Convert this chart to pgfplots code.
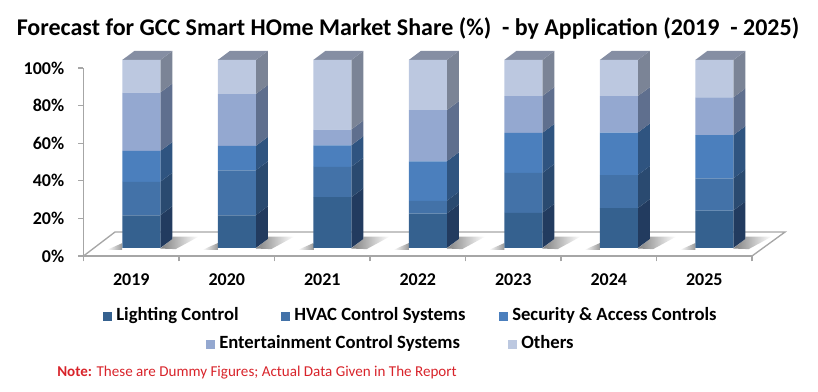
\documentclass[border=0pt]{standalone}
\usepackage{pgfplots}
\usepackage{pgfplotstable}
\usepackage{fontspec}
\setmainfont{Carlito}
\pgfplotsset{compat=1.18}
\definecolor{cA}{HTML}{35618F}\definecolor{cB}{HTML}{4372A8}\definecolor{cC}{HTML}{4B7FBD}\definecolor{cD}{HTML}{94A8D0}\definecolor{cE}{HTML}{BCC8E0}
\definecolor{sA}{HTML}{223B5F}\definecolor{sB}{HTML}{2A4A70}\definecolor{sC}{HTML}{2F5480}\definecolor{sD}{HTML}{5F6F8E}\definecolor{sE}{HTML}{7B8496}
\definecolor{topc}{HTML}{858EA3}\definecolor{axc}{HTML}{A6A6A6}\definecolor{notec}{HTML}{D8232A}
\pgfplotstableread{
x a b c d e
0 17.4 17.8 16.4 31.1 17.3
1 17.4 23.9 13.0 27.6 18.1
2 27.0 16.2 11.4 8.4 37.0
3 18.3 6.8 21.0 27.2 26.7
4 18.7 21.2 21.3 19.6 19.2
5 21.2 17.6 22.6 19.4 19.2
6 19.9 17.1 23.0 20.1 19.9
}\datatable
\newcommand\seg[4]{%
 \pgfmathsetmacro\xa{#1+0.199}\pgfmathsetmacro\xb{#1+0.325}%
 \pgfmathsetmacro\yc{#2+4.79}\pgfmathsetmacro\yd{#3+4.79}%
 \edef\tmp{\noexpand\addplot[draw=none,fill=#4,forget plot] coordinates {(\xa,#2)(\xb,\yc)(\xb,\yd)(\xa,#3)} -- cycle;}\tmp}
\newcommand\shadow[1]{%
 \pgfmathsetmacro\xa{#1+0.199}\pgfmathsetmacro\xb{#1+0.325}\pgfmathsetmacro\xc{#1+0.60}\pgfmathsetmacro\xd{#1+0.36}%
 \pgfmathsetmacro\xe{#1-0.199}\pgfmathsetmacro\xf{#1-0.36}%
 \edef\tmp{\noexpand\addplot[draw=none,forget plot,left color=black!50,right color=white] coordinates {(\xa,-0.3)(\xb,4.79)(\xb,6.0)(\xc,6.0)(\xd,-0.6)} -- cycle;}\tmp
 \edef\tmp{\noexpand\addplot[draw=none,forget plot,left color=white,right color=black!40] coordinates {(\xf,-1)(\xe,-1)(\xe,2.6)} -- cycle;}\tmp}
\newcommand\barfaces[1]{%
 \pgfplotstablegetelem{#1}{a}\of\datatable\pgfmathsetmacro\ca{\pgfplotsretval}%
 \pgfplotstablegetelem{#1}{b}\of\datatable\pgfmathsetmacro\cb{\ca+\pgfplotsretval}%
 \pgfplotstablegetelem{#1}{c}\of\datatable\pgfmathsetmacro\cc{\cb+\pgfplotsretval}%
 \pgfplotstablegetelem{#1}{d}\of\datatable\pgfmathsetmacro\cd{\cc+\pgfplotsretval}%
 \shadow{#1}%
 \seg{#1}{0}{\ca}{sA}\seg{#1}{\ca}{\cb}{sB}\seg{#1}{\cb}{\cc}{sC}\seg{#1}{\cc}{\cd}{sD}\seg{#1}{\cd}{100}{sE}%
 \pgfmathsetmacro\xa{#1-0.199}\pgfmathsetmacro\xb{#1+0.199}\pgfmathsetmacro\xc{#1+0.325}\pgfmathsetmacro\xd{#1-0.073}%
 \edef\tmp{\noexpand\addplot[draw=none,fill=topc,forget plot] coordinates {(\xa,100)(\xb,100)(\xc,104.79)(\xd,104.79)} -- cycle;}\tmp}
\newcommand\swatch[1]{\textcolor{#1}{\rule{6.75pt}{6.75pt}}}
\begin{document}
\begin{tikzpicture}
\useasboundingbox (0,0) rectangle (613.5pt,294pt);
\coordinate (A) at (62.625pt,102pt);
\coordinate (B) at (70.125pt,108pt);
\pgfplotsset{base/.style={scale only axis,width=501.4pt,height=141pt,xmin=-0.5,xmax=6.5,ymin=0,ymax=100,clip=false}}
% side and top faces, with the floor's shadows
\begin{axis}[base,at={(A)},anchor=south west,
  axis x line*=bottom,axis y line*=left,axis line style={axc,line width=1pt},
  every tick/.style={axc,line width=0.8pt},tick align=outside,major tick length=4pt,
  xtick={-0.5,0.5,1.5,2.5,3.5,4.5,5.5,6.5},x tick label as interval,
  xticklabels={2019,2020,2021,2022,2023,2024,2025},
  ytick={0,20,40,60,80,100},yticklabels={0\%,20\%,40\%,60\%,80\%,100\%},
  tick label style={font=\fontsize{13.5pt}{15pt}\selectfont\bfseries},
  y tick label style={xshift=-7pt},x tick label style={yshift=-6pt}]
\addplot[draw=axc,line width=1pt,forget plot] coordinates {(-0.5,0)(-0.17,12.77)(6.846,12.77)(6.5,0)};
\end{axis}
\begin{axis}[base,at={(B)},anchor=south west,axis lines=none]
\barfaces{0}\barfaces{1}\barfaces{2}\barfaces{3}\barfaces{4}\barfaces{5}\barfaces{6}
\end{axis}
% front faces
\begin{axis}[base,at={(B)},anchor=south west,axis lines=none,
  ybar stacked,bar width=28.5pt]
\addplot[draw=none,fill=cA] table[x=x,y=a]{\datatable};
\addplot[draw=none,fill=cB] table[x=x,y=b]{\datatable};
\addplot[draw=none,fill=cC] table[x=x,y=c]{\datatable};
\addplot[draw=none,fill=cD] table[x=x,y=d]{\datatable};
\addplot[draw=none,fill=cE] table[x=x,y=e]{\datatable};
\end{axis}
\begin{scope}[x=0.75pt,y=-0.75pt,yshift=294pt]
\node[anchor=center,font=\fontsize{18pt}{20pt}\selectfont\bfseries] at (408,28) {Forecast for GCC Smart HOme Market Share (\%)\ \ - by Application (2019\ \ - 2025)};
\tikzset{leg/.style={anchor=base west,inner sep=0pt,font=\fontsize{14pt}{16pt}\selectfont\bfseries}}
\node[leg] at (103,321) {\swatch{cA}\hspace{3pt}Lighting Control};
\node[leg] at (281,321) {\swatch{cB}\hspace{3pt}HVAC Control Systems};
\node[leg] at (499,321) {\swatch{cC}\hspace{3pt}Security \& Access Controls};
\node[leg] at (206,349) {\swatch{cD}\hspace{3pt}Entertainment Control Systems};
\node[leg] at (508,349) {\swatch{cE}\hspace{3pt}Others};
\node[anchor=base west,inner sep=0pt,text=notec,font=\fontsize{11.3pt}{13pt}\selectfont] at (57,377) {\textbf{Note:} These are Dummy Figures; Actual Data Given in The Report};
\end{scope}
\end{tikzpicture}
\end{document}
